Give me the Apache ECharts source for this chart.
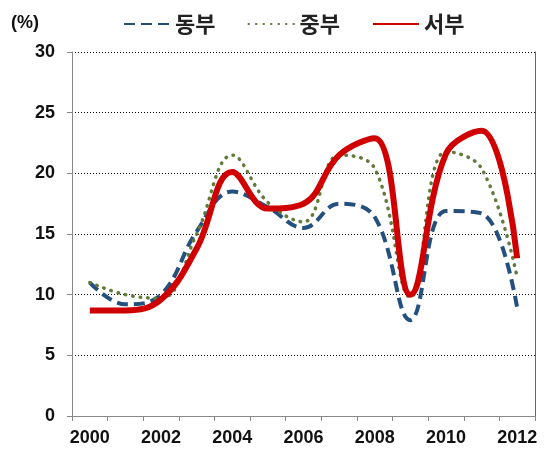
<!DOCTYPE html>
<html>
<head>
<meta charset="utf-8">
<script src="https://cdn.jsdelivr.net/npm/echarts@6/dist/echarts.min.js"></script>
<style>
  html, body { margin: 0; padding: 0; background: #fff; }
  #chart { width: 549px; height: 459px; }
</style>
</head>
<body>
<div id="chart"></div>
<script>
const years = ['2000', '2001', '2002', '2003', '2004', '2005', '2006', '2007', '2008', '2009', '2010', '2011', '2012'];
const east = [11.0, 9.2, 10.0, 15.2, 18.5, 17.2, 15.5, 17.5, 16.4, 7.9, 16.9, 16.7, 8.9];
const center = [11.0, 10.0, 9.7, 15.0, 21.5, 17.6, 16.0, 21.5, 20.4, 9.8, 21.8, 20.4, 11.4];
const west = [8.7, 8.7, 9.6, 13.8, 20.1, 17.1, 17.5, 21.5, 22.9, 10.0, 21.6, 23.5, 13.0];
const seriesNames = ['동부', '중부', '서부'];

const chart = echarts.init(document.getElementById('chart'));

const font = '"Noto Sans CJK KR", "Liberation Sans", sans-serif';
const numFont = '"Liberation Sans", Arial, sans-serif';

const option = {
  animation: false,
  textStyle: { fontFamily: font },
  grid: { left: 72, right: 14, top: 52, bottom: 43 },
  graphic: [{
    type: 'text',
    left: 11,
    top: 14,
    style: { text: '(%)', fontSize: 18, fontWeight: 'bold', fill: '#111', fontFamily: numFont }
  }],
  legend: {
    data: seriesNames,
    top: 8,
    left: 118,
    itemWidth: 46,
    itemHeight: 14,
    itemGap: 32,
    itemStyle: { opacity: 0 },
    textStyle: { fontSize: 22, fontWeight: 'bold', color: '#222', fontFamily: font }
  },
  xAxis: {
    type: 'category',
    data: years,
    boundaryGap: true,
    axisLine: { lineStyle: { color: '#888', width: 1 } },
    axisTick: { show: true, interval: 0, length: 5, lineStyle: { color: '#888' } },
    axisLabel: { interval: 1, color: '#111', fontSize: 18, fontWeight: 'bold', margin: 13, fontFamily: numFont },
    splitLine: { show: false }
  },
  yAxis: [{
    type: 'value',
    min: 0,
    max: 30,
    interval: 5,
    axisLine: { show: true, lineStyle: { color: '#888', width: 1 } },
    axisTick: { show: true, length: 5, lineStyle: { color: '#888' } },
    axisLabel: { color: '#111', fontSize: 18, fontWeight: 'bold', margin: 17, fontFamily: numFont },
    splitLine: { lineStyle: { color: '#000', type: [1, 2], width: 1 } }
  }, {
    type: 'value',
    position: 'right',
    min: 0,
    max: 30,
    interval: 5,
    axisLine: { show: true, lineStyle: { color: '#666', width: 1 } },
    axisTick: { show: false },
    axisLabel: { show: false },
    splitLine: { show: false }
  }],
  series: [
    {
      name: seriesNames[0],
      type: 'line',
      data: east,
      smooth: 0.4,
      symbol: 'none',
      lineStyle: { color: '#24507e', width: 4, type: [11, 6] },
      itemStyle: { color: '#24507e' }
    },
    {
      name: seriesNames[1],
      type: 'line',
      data: center,
      smooth: 0.4,
      symbol: 'none',
      lineStyle: { color: '#5f7a3a', width: 3.5, type: [0.5, 7], cap: 'round' },
      itemStyle: { color: '#5f7a3a' }
    },
    {
      name: seriesNames[2],
      type: 'line',
      data: west,
      smooth: 0.4,
      symbol: 'none',
      lineStyle: { color: '#d00000', width: 6 },
      itemStyle: { color: '#d00000' }
    }
  ]
};

chart.setOption(option);
window.addEventListener('resize', () => chart.resize());
</script>
</body>
</html>
